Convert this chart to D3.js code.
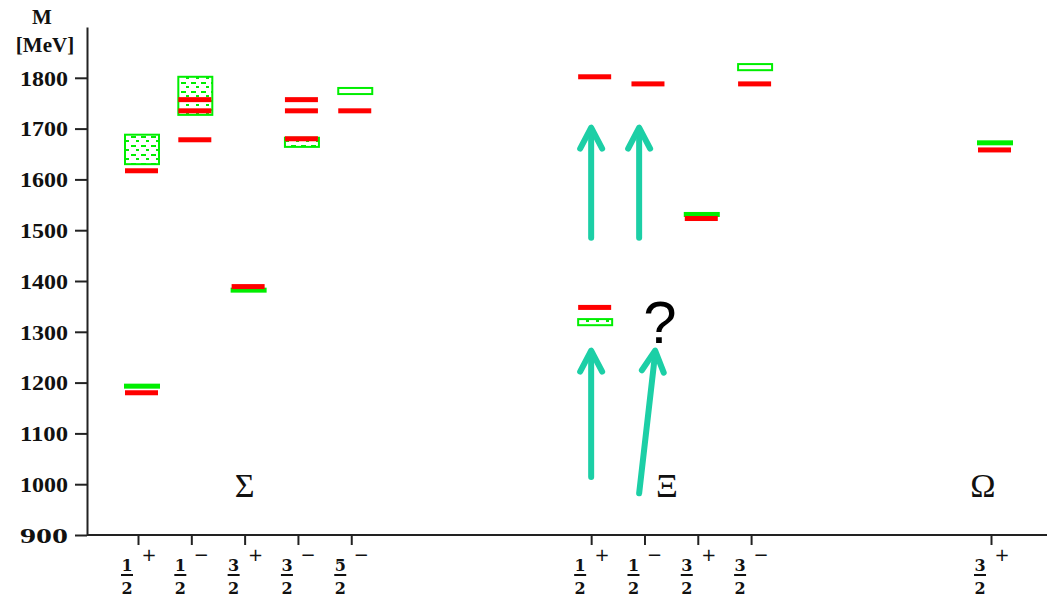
<!DOCTYPE html>
<html>
<head>
<meta charset="utf-8">
<script src="https://cdn.jsdelivr.net/npm/d3@7"></script>
<style>
  body { margin: 0; background: #fff; }
  svg { display: block; }
</style>
</head>
<body>
<svg id="chart" width="1047" height="597"></svg>
<script>
// quantum numbers J^P per column
const jpNum  = ["1", "1", "3", "3", "5", "1", "1", "3", "3", "3"];
const jpSign = ["+", "\u2212", "+", "\u2212", "\u2212", "+", "\u2212", "+", "\u2212", "+"];
const slots  = [0, 1, 2, 3, 4, 8.5, 9.5, 10.5, 11.5, 16];

// lattice results (red)
const redCat  = [0, 0, 1, 1, 1, 2, 3, 3, 3, 4, 5, 5, 6, 7, 8, 9];
const redMass = [1617, 1180, 1757, 1735, 1678, 1389, 1757, 1735, 1680, 1735, 1802, 1348, 1788, 1523, 1788, 1658];

// experiment, well known states (green lines)
const greenLineCat  = [0, 2, 7, 9];
const greenLineMass = [1193, 1382, 1531, 1672];

// experiment, mass ranges (green boxes)
const greenBoxCat    = [0, 1, 3, 4, 5, 8];
const greenBoxLo     = [1630, 1727, 1664, 1768, 1313, 1815];
const greenBoxHi     = [1688, 1802, 1682, 1780, 1325, 1827];
const greenBoxFilled = [true, true, true, false, true, false];

const yTicks = [900, 1000, 1100, 1200, 1300, 1400, 1500, 1600, 1700, 1800];

const groups = [
  { name: "\u03a3", at: 2 },
  { name: "\u039e", at: 9.92 },
  { name: "\u03a9", at: 15.85 }
];

// arrows in data units: slot and MeV
const arrows = [
  { x1: 8.5, m1: 1014, x2: 8.5, m2: 1263 },
  { x1: 9.4, m1: 982, x2: 9.7, m2: 1263 },
  { x1: 8.5, m1: 1485, x2: 8.5, m2: 1702 },
  { x1: 9.4, m1: 1485, x2: 9.4, m2: 1702 }
];

const W = 1047, H = 597;
const axisX = 87, axisY = 535;
const svg = d3.select("#chart");

const x = d3.scaleLinear().domain([0, 16]).range([138, 991]);
const y = d3.scaleLinear().domain([900, 1900]).range([axisY, 27]);

const green = "#00ee00", red = "#ff0000", teal = "#1ccfa6";

// dotted fill used inside the boxes
const defs = svg.append("defs");
const pat = defs.append("pattern")
  .attr("id", "dots")
  .attr("patternUnits", "userSpaceOnUse")
  .attr("width", 10).attr("height", 9);
pat.append("rect").attr("width", 10).attr("height", 9).attr("fill", "#fff");
pat.append("rect").attr("x", 1).attr("y", 1).attr("width", 5).attr("height", 2).attr("fill", green);
pat.append("rect").attr("x", 6).attr("y", 5).attr("width", 3).attr("height", 2).attr("fill", green);

// y axis
const yAxis = svg.append("g")
  .attr("transform", `translate(${axisX},0)`)
  .call(d3.axisLeft(y).tickValues(yTicks).tickSize(12).tickSizeOuter(0).tickFormat(d3.format("d")));
yAxis.select(".domain").attr("stroke", "#222").attr("stroke-width", 2);
yAxis.selectAll(".tick line").attr("stroke", "#222").attr("stroke-width", 2);
yAxis.selectAll(".tick text")
  .attr("x", -19)
  .attr("dy", "0.35em")
  .attr("font-family", "Liberation Serif, serif")
  .attr("font-size", 21)
  .attr("font-weight", "bold")
  .attr("fill", "#111")
  .attr("textLength", 48)
  .attr("lengthAdjust", "spacingAndGlyphs");

svg.append("text")
  .attr("x", 42).attr("y", 24)
  .attr("text-anchor", "middle")
  .attr("font-family", "Liberation Serif, serif")
  .attr("font-size", 21)
  .attr("font-weight", "bold")
  .attr("fill", "#111")
  .text("M");
svg.append("text")
  .attr("x", 45).attr("y", 52)
  .attr("text-anchor", "middle")
  .attr("font-family", "Liberation Serif, serif")
  .attr("font-size", 21)
  .attr("font-weight", "bold")
  .attr("fill", "#111")
  .text("[MeV]");

// x axis
const xAxis = svg.append("g")
  .attr("transform", `translate(0,${axisY})`)
  .call(d3.axisBottom(x).tickValues(slots).tickSize(10).tickSizeOuter(0).tickFormat(""));
xAxis.select(".domain").remove();
xAxis.append("line")
  .attr("x1", axisX).attr("x2", W)
  .attr("stroke", "#222").attr("stroke-width", 2);
xAxis.selectAll(".tick line").attr("stroke", "#222").attr("stroke-width", 2);

// J^P labels under the ticks
const lab = svg.append("g")
  .selectAll("g")
  .data(slots)
  .join("g")
  .attr("transform", d => `translate(${x(d)},0)`);
lab.append("text")
  .attr("x", -11).attr("y", 571)
  .attr("text-anchor", "middle")
  .attr("font-family", "DejaVu Serif, serif")
  .attr("font-weight", "bold")
  .attr("font-size", 16)
  .attr("fill", "#111")
  .text((d, i) => jpNum[i]);
lab.append("line")
  .attr("x1", -17).attr("x2", -5)
  .attr("y1", 575).attr("y2", 575)
  .attr("stroke", "#111").attr("stroke-width", 2);
lab.append("text")
  .attr("x", -11).attr("y", 594)
  .attr("text-anchor", "middle")
  .attr("font-family", "DejaVu Serif, serif")
  .attr("font-weight", "bold")
  .attr("font-size", 16)
  .attr("fill", "#111")
  .text("2");
lab.append("text")
  .attr("x", (d, i) => jpSign[i] === "+" ? 11 : 10).attr("y", 561)
  .attr("text-anchor", "middle")
  .attr("font-family", "DejaVu Sans, sans-serif")
  .attr("font-size", 18)
  .attr("fill", "#111")
  .text((d, i) => jpSign[i]);

// green boxes
svg.append("g")
  .selectAll("rect")
  .data(greenBoxCat)
  .join("rect")
  .attr("x", d => x(slots[d]) - 13)
  .attr("y", (d, i) => y(greenBoxHi[i]))
  .attr("width", 34)
  .attr("height", (d, i) => y(greenBoxLo[i]) - y(greenBoxHi[i]))
  .attr("fill", (d, i) => greenBoxFilled[i] ? "url(#dots)" : "#fff")
  .attr("stroke", green)
  .attr("stroke-width", 2);

// green lines
svg.append("g")
  .selectAll("rect")
  .data(greenLineCat)
  .join("rect")
  .attr("x", d => x(slots[d]) - 14)
  .attr("y", (d, i) => y(greenLineMass[i]) - 2.5)
  .attr("width", 36)
  .attr("height", 5)
  .attr("fill", green);

// red lattice levels
svg.append("g")
  .selectAll("rect")
  .data(redCat)
  .join("rect")
  .attr("x", d => x(slots[d]) - 13)
  .attr("y", (d, i) => y(redMass[i]) - 2.5)
  .attr("width", 33)
  .attr("height", 5)
  .attr("fill", red);

// group names
svg.append("g")
  .selectAll("text")
  .data(groups)
  .join("text")
  .attr("x", d => x(d.at))
  .attr("y", 497)
  .attr("text-anchor", "middle")
  .attr("font-family", "Liberation Serif, serif")
  .attr("font-size", 34)
  .attr("fill", "#111")
  .text(d => d.name);

// arrows
const ag = svg.append("g")
  .attr("stroke", teal)
  .attr("stroke-width", 6)
  .attr("stroke-linecap", "round")
  .attr("stroke-linejoin", "round")
  .attr("fill", "none");
arrows.forEach(a => {
  const X1 = x(a.x1), Y1 = y(a.m1), X2 = x(a.x2), Y2 = y(a.m2);
  const ang = Math.atan2(Y2 - Y1, X2 - X1);
  const len = 21, half = 11;
  const bx = X2 - len * Math.cos(ang), by = Y2 - len * Math.sin(ang);
  const px = -Math.sin(ang) * half, py = Math.cos(ang) * half;
  ag.append("line").attr("x1", X1).attr("y1", Y1).attr("x2", X2).attr("y2", Y2 + 3);
  ag.append("polyline")
    .attr("points", `${bx + px},${by + py} ${X2},${Y2} ${bx - px},${by - py}`);
});

// question mark
svg.append("text")
  .attr("x", 660).attr("y", 343)
  .attr("text-anchor", "middle")
  .attr("font-family", "Liberation Sans, Arial, sans-serif")
  .attr("font-size", 60)
  .attr("fill", "#000")
  .text("?");
</script>
</body>
</html>
